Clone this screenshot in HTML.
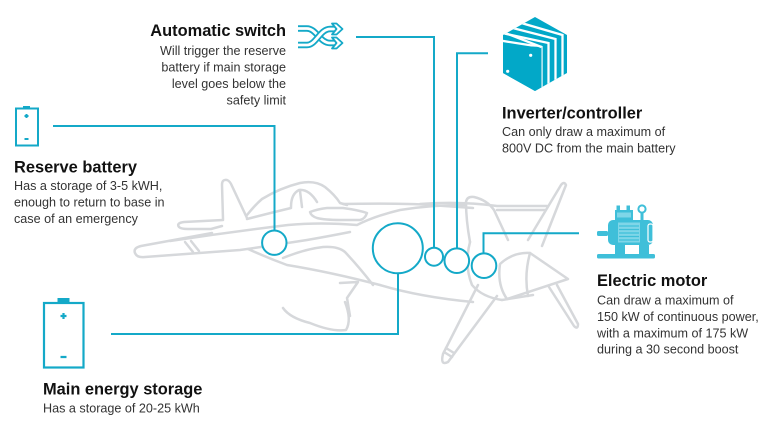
<!DOCTYPE html>
<html><head><meta charset="utf-8"><style>
html,body{margin:0;padding:0;background:#fff;}
svg{display:block;}
.t{font-family:"Liberation Sans",Arial,sans-serif;font-weight:bold;font-size:16.4px;fill:#111;}
.b{font-family:"Liberation Sans",Arial,sans-serif;font-size:12.6px;fill:#333;}
.pl{fill:none;stroke:#d6d8db;stroke-width:2.5;stroke-linecap:round;stroke-linejoin:round;}
.tl{fill:none;stroke:#14a9c8;stroke-width:2;}
</style></head><body>
<svg width="768" height="434" viewBox="0 0 768 434" xmlns="http://www.w3.org/2000/svg">
<rect width="768" height="434" fill="#fff"/>
<!-- plane -->
<g class="pl">
<path d="M212 233 L141 246 Q133 248 135 253 Q137 258 145 257 L240 250 Q275 245 307 240 Q330 236 350 232"/>
<path d="M185 242 L193 252 M191 241 L199 251"/>
<path d="M223 220 L184 222 Q176 223 179 227 Q181 229 188 229 L211 229 L222 226"/>
<path d="M223 219 L222 185 Q222 179 227 180 Q230 181 232 186 L247 218"/>
<path d="M247 215 Q255 205 262 199 Q280 188 300 183 Q315 180 325 187 Q335 195 340 203 L347 205"/>
<path d="M343 204 Q400 203 430 205 L473 208"/>
<path d="M291 207 Q291 194 299 190 Q309 189 317 202 M300 191 L302 207"/>
<path d="M247 219 Q270 213 291 208"/>
<path d="M310 212 Q318 209 327 208 L343 208 Q358 210 367 213 Q365 219 360 220 L340 220 Q325 220 317 218 Q311 216 310 212 Z"/>
<path d="M170 241 Q230 232 288 225 Q320 222 357 225 Q375 216 400 210 Q430 205 465 205"/>
<path d="M283 258 Q305 249 323 247 Q338 246 345 252 Q360 268 373 285"/>
<path d="M248 249 Q268 258 287 265 Q330 272 380 285 Q420 297 473 302"/>
<path d="M340 283 L358 282 L347 298 L350 316"/>
<path d="M283 308 Q290 318 310 323 Q332 332 346 330 Q352 320 345 302"/>
<path d="M420 204 Q460 201 497 206 L547 206 M497 210 L545 210"/>
<path d="M470 242 Q466 220 466 202 Q467 196 474 197 Q487 200 494 210 L508 240"/>
<path d="M528 240 L561 185 Q564 181 566 185 L542 246"/>
<path d="M500 264 Q513 252 530 253 L568 279 L507 299 Q497 285 500 264 Z"/>
<path d="M530 253 Q524 275 528 296"/>
<path d="M470 242 Q464 265 472 285 Q482 297 502 300"/>
<path d="M549 287 L574 326 Q578 330 578 324 L557 285"/>
<path d="M478 285 L443 354 Q440 366 448 362 L497 296"/>
<path d="M444 352 L452 357 M446 348 L454 353"/>
<path d="M502 300 L533 295"/>
</g>
<!-- connectors -->
<g class="tl">
<polyline points="53,126 274.5,126 274.5,230.5"/>
<circle cx="274.3" cy="242.7" r="12.2" fill="#fff"/>
<polyline points="356,37 434,37 434,247.7"/>
<circle cx="434" cy="256.7" r="9" fill="#fff"/>
<polyline points="488,53.3 457,53.3 457,248.4"/>
<circle cx="456.8" cy="260.7" r="12.3" fill="#fff"/>
<polyline points="579,233.3 483.5,233.3 483.5,253.4"/>
<circle cx="484" cy="265.7" r="12.3" fill="#fff"/>
<circle cx="397.8" cy="248.3" r="25" fill="#fff"/>
<polyline points="398,273.3 398,334 111,334"/>
</g>
<!-- reserve battery icon -->
<g fill="none" stroke="#14a9c8" stroke-width="2">
<rect x="16" y="108.5" width="22" height="37"/>
<rect x="23" y="106" width="7" height="2.5" fill="#14a9c8" stroke="none"/>
<path d="M24.5 116 h4 M26.5 114 v4 M24.5 139 h4"/>
</g>
<!-- main battery icon -->
<g fill="none" stroke="#14a9c8" stroke-width="2.2">
<rect x="44" y="303" width="39.5" height="64.5"/>
<rect x="57.5" y="298" width="12" height="5" fill="#14a9c8" stroke="none"/>
<path d="M60.5 316 h6 M63.5 313 v6 M60.5 357 h6"/>
</g>
<!-- switch icon -->
<g fill="none" stroke-linecap="butt">
<path d="M298 28.5 L307 28.5 C316 28.5 320 43 330 43 L335 43" stroke="#14a9c8" stroke-width="6.5"/>
<path d="M298 28.5 L307 28.5 C316 28.5 320 43 330 43 L336 43" stroke="#fff" stroke-width="2.8"/>
<path d="M298 45 L307 45 C316 45 320 29 330 29 L335 29" stroke="#14a9c8" stroke-width="6.5"/>
<path d="M298 45 L307 45 C316 45 320 29 330 29 L336 29" stroke="#fff" stroke-width="2.8"/>
<polygon points="332,23.5 336.5,23.5 342.5,29 336.5,34.5 332,34.5 336.5,29" fill="#fff" stroke="#14a9c8" stroke-width="1.8" stroke-linejoin="round"/>
<polygon points="332,37.5 336.5,37.5 342.5,43 336.5,48.5 332,48.5 336.5,43" fill="#fff" stroke="#14a9c8" stroke-width="1.8" stroke-linejoin="round"/>
</g>
<!-- inverter icon -->
<defs><clipPath id="hx"><polygon points="535,17 567,35 567,73 535,91 503,73 503,35"/></clipPath></defs>
<polygon points="535,17 567,35 567,73 535,91 503,73 503,35" fill="#02a8c8"/>
<g clip-path="url(#hx)" fill="none" stroke="#fff" stroke-width="2.3">
<polyline points="500,40.5 541.5,47 541.5,95"/>
<polyline points="500,32.6 548.5,43 548.5,95"/>
<polyline points="500,24.7 555.5,39 555.5,95"/>
<polyline points="500,16.8 562.5,35 562.5,95"/>
</g>
<g clip-path="url(#hx)" fill="#02a8c8">
<polygon points="500,45 541.5,47 541.5,95 500,95"/>
</g>
<g clip-path="url(#hx)" fill="none" stroke="#fff" stroke-width="2.3">
<line x1="505" y1="32.9" x2="541.5" y2="47"/>
</g>
<circle cx="530.7" cy="55.3" r="1.6" fill="#fff"/>
<circle cx="507.7" cy="71.3" r="1.6" fill="#fff"/>
<!-- motor icon -->
<g>
<rect x="597" y="254" width="58" height="4.5" rx="1.5" fill="#3fbfd9"/>
<rect x="615" y="245" width="10" height="9" fill="#3fbfd9"/>
<rect x="639" y="245" width="10" height="9" fill="#3fbfd9"/>
<rect x="608" y="220" width="45" height="25" rx="5" fill="#3fbfd9"/>
<rect x="618" y="222.5" width="22" height="20" fill="#7fd6e8"/>
<g stroke="#3fbfd9" stroke-width="1.2"><path d="M619 226 h20 M619 229.5 h20 M619 233 h20 M619 236.5 h20 M619 240 h20"/></g>
<rect x="648" y="224" width="5" height="18" rx="2" fill="none" stroke="#fff" stroke-width="1.2"/>
<rect x="615" y="210" width="18" height="10" fill="#3fbfd9"/>
<rect x="617" y="212.5" width="14" height="5" fill="#7fd6e8"/>
<rect x="616.5" y="205.5" width="3.5" height="4.5" fill="#3fbfd9"/>
<rect x="626.5" y="205.5" width="3.5" height="4.5" fill="#3fbfd9"/>
<circle cx="642" cy="209" r="3.6" fill="none" stroke="#3fbfd9" stroke-width="2"/>
<rect x="640.5" y="213" width="3" height="7" fill="#3fbfd9"/>
<rect x="597" y="231" width="11" height="5" rx="1.5" fill="#3fbfd9"/>
</g>
<!-- texts -->
<text class="t" x="286" y="36" text-anchor="end">Automatic switch</text>
<text class="b" x="286" y="55" text-anchor="end">Will trigger the reserve</text>
<text class="b" x="286" y="71.6" text-anchor="end">battery if main storage</text>
<text class="b" x="286" y="88.2" text-anchor="end">level goes below the</text>
<text class="b" x="286" y="104.5" text-anchor="end">safety  limit</text>

<text class="t" x="14" y="172.5">Reserve battery</text>
<text class="b" x="14" y="190">Has a storage of 3-5 kWH,</text>
<text class="b" x="14" y="206.5">enough to return to base in</text>
<text class="b" x="14" y="223">case of an emergency</text>

<text class="t" x="502" y="118.3">Inverter/controller</text>
<text class="b" x="502" y="136">Can only draw a maximum of</text>
<text class="b" x="502" y="152.7">800V DC from the main battery</text>

<text class="t" x="597" y="286">Electric motor</text>
<text class="b" x="597" y="304.3">Can draw a maximum of</text>
<text class="b" x="597" y="321">150 kW of continuous power,</text>
<text class="b" x="597" y="337.7">with  a maximum of 175 kW</text>
<text class="b" x="597" y="353.5">during a 30 second boost</text>

<text class="t" x="43" y="394.3">Main energy storage</text>
<text class="b" x="43" y="412.3">Has a storage of 20-25 kWh</text>
</svg>
</body></html>
